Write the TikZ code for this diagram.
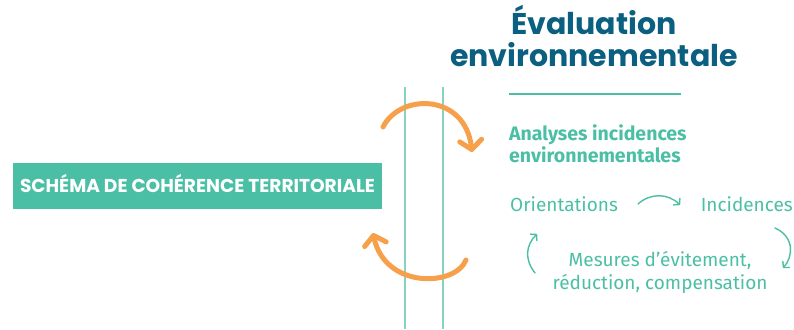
\documentclass[tikz,border=0pt]{standalone}
\usepackage{fontspec}
\setmainfont{Fira Sans}
\newfontfamily\titlefont{Poppins}
\usetikzlibrary{arrows.meta,positioning}
\definecolor{vert}{HTML}{4BBFA5}
\definecolor{vertclair}{HTML}{85D4C1}
\definecolor{bleu}{HTML}{0B5F80}
\definecolor{orangeclair}{HTML}{F7A04B}
\tikzset{
  grandefleche/.style={orangeclair, line width=5pt, line cap=round, -{Straight Barb[length=9pt,width=22pt,round]}},
  petitefleche/.style={vert, line width=1.4pt, line cap=round, -{Straight Barb[length=4pt,width=9pt,round]}},
  etape/.style={text=vert, font=\fontsize{19}{22}\selectfont, inner sep=0pt},
  titre/.style={anchor=base, text=bleu, inner sep=0pt, font=\titlefont\bfseries\fontsize{30}{34}\selectfont},
  analyse/.style={anchor=base west, text=vert, inner sep=0pt, font=\bfseries\fontsize{19.5}{22}\selectfont}
}
\begin{document}
\begin{tikzpicture}[x=1pt,y=1pt]
        \useasboundingbox (0,0) rectangle (794,329);
        \foreach \x in {405,443} {
                \draw[vertclair, line width=1.5pt] (\x,242) -- (\x,0);
            }
        \node[fill=vert, minimum width=369pt, minimum height=46pt, inner sep=0pt,
              text=white, text height=13pt, text depth=0pt,
              font=\titlefont\bfseries\fontsize{18.6}{20}\selectfont] (scot) at (197.5,143) {SCHÉMA DE COHÉRENCE TERRITORIALE};
        \node[titre] (titreA) at (594,294) {Évaluation};
        \node[titre] (titreB) at (594,262) {environnementale};
        \coordinate (traitG) at (509,235);
        \coordinate (traitD) at (681,235);
        \draw[vert, line width=2.5pt] (traitG) -- (traitD);
        \node[analyse] (analyses) at (509,188) {Analyses incidences};
        \node[analyse] (analysesB) at (509,166) {environnementales};
        \node[etape, anchor=base west] (orient) at (510,117) {Orientations};
        \node[etape, anchor=base east] (incid) at (793,117) {Incidences};
        \node[etape, anchor=base] (mesures) at (660,62) {Mesures d’évitement,};
        \node[etape, anchor=base] (mesuresB) at (660,39) {réduction, compensation};
        \coordinate (hautG) at (383,202);
        \coordinate (hautD) at (472,177);
        \coordinate (basD) at (466,69);
        \coordinate (basG) at (373,96);
        \draw[grandefleche] (hautG) .. controls (400,236) and (465,236) .. (hautD);
        \draw[grandefleche] (basD) .. controls (455,42) and (385,40) .. (basG);
        \coordinate (o1) at (638,125);
        \coordinate (o2) at (680,124);
        \coordinate (i1) at (775,101);
        \coordinate (i2) at (783,61);
        \coordinate (m1) at (535,56);
        \coordinate (m2) at (537,95);
        \draw[petitefleche] (o1) .. controls (650,136) and (668,136) .. (o2);
        \draw[petitefleche] (i1) .. controls (795,92) and (793,72) .. (i2);
        \draw[petitefleche] (m1) .. controls (524,70) and (526,84) .. (m2);
    \end{tikzpicture}
\end{document}
